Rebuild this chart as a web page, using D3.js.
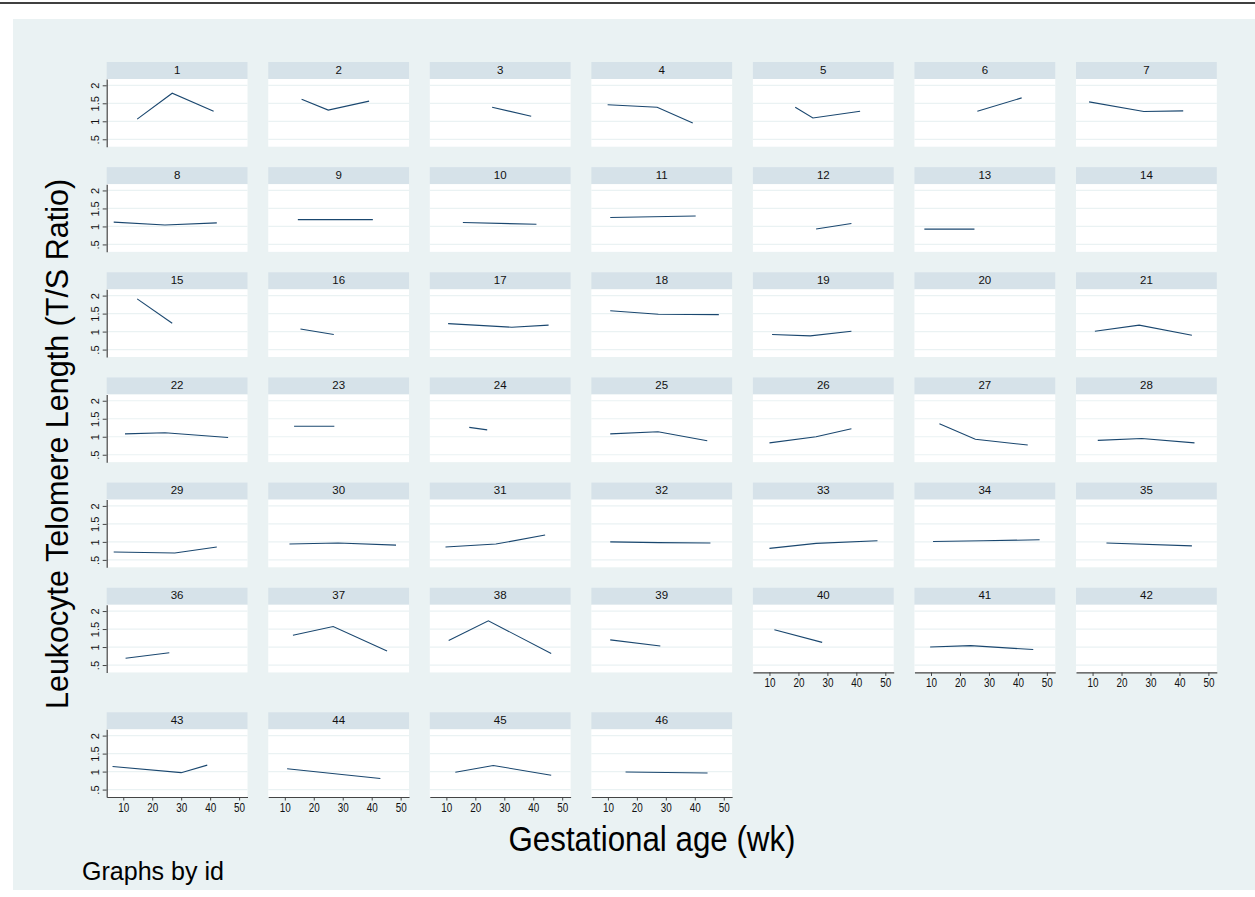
<!DOCTYPE html>
<html>
<head>
<meta charset="utf-8">
<script src="https://cdn.jsdelivr.net/npm/d3@7"></script>
<style>
  html, body { margin: 0; padding: 0; background: #ffffff; }
  svg { display: block; font-family: "Liberation Sans", Arial, sans-serif; }
</style>
</head>
<body>
<div id="chart"></div>
<script>
// one panel per subject id, weeks / T-S ratio per visit
const ids = d3.range(1, 47);

const weeks = [
  [14.8, 26.9, 41.2], [15.8, 25.0, 39.1], [25.8, 39.3], [9.9, 27.0, 39.3],
  [18.9, 25.0, 41.3], [26.0, 41.3], [8.8, 27.7, 41.3],
  [6.7, 24.4, 42.3], [14.5, 40.4], [15.7, 41.1], [10.8, 40.3],
  [26.1, 38.3], [7.7, 25.0], [],
  [14.8, 26.9], [15.4, 26.9], [10.6, 32.6, 45.3], [10.8, 27.4, 48.3],
  [10.9, 24.1, 38.3], [], [10.8, 26.1, 44.3],
  [10.6, 24.4, 46.2], [13.2, 27.1], [17.9, 24.1], [10.8, 27.3, 44.3],
  [10.0, 26.1, 38.3], [12.9, 25.3, 43.4], [11.8, 27.0, 45.2],
  [6.7, 27.8, 42.3], [11.6, 28.4, 48.4], [9.7, 27.1, 44.1], [10.8, 27.5, 45.4],
  [10.0, 26.1, 47.3], [10.7, 28.0, 47.5], [14.8, 44.3],
  [10.8, 25.9], [12.8, 26.7, 45.3], [10.8, 24.5, 46.2], [10.8, 28.1],
  [11.7, 28.2], [9.7, 23.7, 45.3], [],
  [6.3, 30.0, 39.0], [10.8, 29.7, 43.0], [13.1, 26.2, 46.2], [16.1, 44.4]
];

const ratios = [
  [1.06, 1.78, 1.28], [1.61, 1.31, 1.56], [1.39, 1.14], [1.46, 1.39, 0.95],
  [1.39, 1.09, 1.28], [1.28, 1.65], [1.54, 1.27, 1.29],
  [1.12, 1.04, 1.10], [1.19, 1.19], [1.11, 1.06], [1.25, 1.29],
  [0.93, 1.08], [0.925, 0.925], [],
  [1.91, 1.23], [1.07, 0.92], [1.22, 1.12, 1.18], [1.58, 1.48, 1.47],
  [0.92, 0.88, 1.01], [], [1.01, 1.18, 0.90],
  [1.08, 1.11, 0.98], [1.29, 1.29], [1.26, 1.19], [1.08, 1.14, 0.89],
  [0.83, 1.00, 1.22], [1.36, 0.93, 0.77], [0.90, 0.95, 0.83],
  [0.72, 0.69, 0.86], [0.94, 0.97, 0.91], [0.86, 0.94, 1.19], [1.00, 0.98, 0.97],
  [0.82, 0.96, 1.03], [1.01, 1.03, 1.06], [0.97, 0.89],
  [0.69, 0.84], [1.33, 1.57, 0.89], [1.18, 1.73, 0.82], [1.20, 1.03],
  [1.48, 1.13], [1.00, 1.04, 0.93], [],
  [1.14, 0.97, 1.18], [1.08, 0.92, 0.81], [0.98, 1.17, 0.90], [0.99, 0.96]
];

const yTicks = [0.5, 1, 1.5, 2];
const yTickLabels = [".5", "1", "1.5", "2"];
const xTicks = [10, 20, 30, 40, 50];

const width = 1255, height = 897;
const nCols = 7;
const colLeft = 106.7, colStep = 161.55, panelW = 140.8;
const rowTop = 62, rowStep = 105.15, lastRowTop = 712.3;
const headH = 17, plotH = 67.7;

const svg = d3.select("#chart")
  .append("svg")
  .attr("width", width)
  .attr("height", height);

// frame line + graph region
svg.append("line")
  .attr("x1", 0).attr("x2", width)
  .attr("y1", 3).attr("y2", 3)
  .attr("stroke", "#000").attr("stroke-width", 1.5);

svg.append("rect")
  .attr("x", 13).attr("y", 19)
  .attr("width", width - 13).attr("height", 871)
  .attr("fill", "#eaf2f3");

const x = d3.scaleLinear().domain([4.28, 52.9]).range([0, panelW]);
const y = d3.scaleLinear().domain([0.294, 2.175]).range([plotH, 0]);

const line = d3.line()
  .x(d => x(d[0]))
  .y(d => y(d[1]));

ids.forEach((id, i) => {
  let col = i % nCols;
  let row = Math.floor(i / nCols);
  let top = row < 6 ? rowTop + row * rowStep : lastRowTop;
  let left = colLeft + col * colStep;

  let g = svg.append("g")
    .attr("transform", `translate(${left},${top})`);

  // header strip
  g.append("rect")
    .attr("width", panelW).attr("height", headH)
    .attr("fill", "#d6e2e9");
  g.append("text")
    .attr("x", panelW / 2).attr("y", 11.5)
    .attr("text-anchor", "middle")
    .attr("font-size", 11.5)
    .attr("fill", "#111")
    .text(id);

  let plot = g.append("g")
    .attr("transform", `translate(0,${headH})`);

  plot.append("rect")
    .attr("width", panelW).attr("height", plotH)
    .attr("fill", "#ffffff");

  plot.selectAll("line.grid")
    .data(yTicks)
    .join("line")
    .attr("class", "grid")
    .attr("x1", 0).attr("x2", panelW)
    .attr("y1", d => y(d)).attr("y2", d => y(d))
    .attr("stroke", "#eaf2f3")
    .attr("stroke-width", 1.2);

  let pts = weeks[i].map((w, k) => [w, ratios[i][k]]);
  if (pts.length) {
    plot.append("path")
      .datum(pts)
      .attr("d", line)
      .attr("fill", "none")
      .attr("stroke", "#1a476f")
      .attr("stroke-width", 1.1);
  }

  // y axis on first column only
  if (col === 0) {
    let ya = plot.append("g")
      .call(d3.axisLeft(y).tickValues(yTicks)
        .tickFormat((d, k) => yTickLabels[k])
        .tickSize(4).tickSizeOuter(0));
    ya.select(".domain").attr("stroke", "#444").attr("stroke-width", 1.2);
    ya.selectAll(".tick line").attr("stroke", "#444");
    ya.selectAll(".tick text")
      .attr("font-size", 11)
      .attr("font-family", "Liberation Sans, Arial, sans-serif")
      .attr("fill", "#111")
      .attr("text-anchor", "middle")
      .attr("x", 0).attr("dy", 0)
      .attr("transform", "translate(-8,0) rotate(-90)");
  }

  // x axis only where nothing sits below
  if (i + nCols >= ids.length) {
    let xa = plot.append("g")
      .attr("transform", `translate(0,${plotH})`)
      .call(d3.axisBottom(x).tickValues(xTicks).tickSize(3.5).tickSizeOuter(0));
    xa.select(".domain").attr("stroke", "#444").attr("stroke-width", 1.2);
    xa.selectAll(".tick line").attr("stroke", "#444");
    xa.selectAll(".tick text")
      .attr("font-size", 12.5)
      .attr("font-family", "Liberation Sans, Arial, sans-serif")
      .attr("fill", "#111")
      .attr("textLength", 11)
      .attr("lengthAdjust", "spacingAndGlyphs")
      .attr("y", 6);
  }
});

// titles
svg.append("text")
  .attr("transform", "translate(68,444) rotate(-90)")
  .attr("text-anchor", "middle")
  .attr("font-size", 30.5)
  .attr("fill", "#000")
  .text("Leukocyte Telomere Length (T/S Ratio)");

svg.append("text")
  .attr("x", 652).attr("y", 851)
  .attr("text-anchor", "middle")
  .attr("font-size", 35)
  .attr("textLength", 287)
  .attr("lengthAdjust", "spacingAndGlyphs")
  .attr("fill", "#000")
  .text("Gestational age (wk)");

svg.append("text")
  .attr("x", 82).attr("y", 880)
  .attr("font-size", 25)
  .attr("textLength", 142)
  .attr("lengthAdjust", "spacingAndGlyphs")
  .attr("fill", "#000")
  .text("Graphs by id");
</script>
</body>
</html>
